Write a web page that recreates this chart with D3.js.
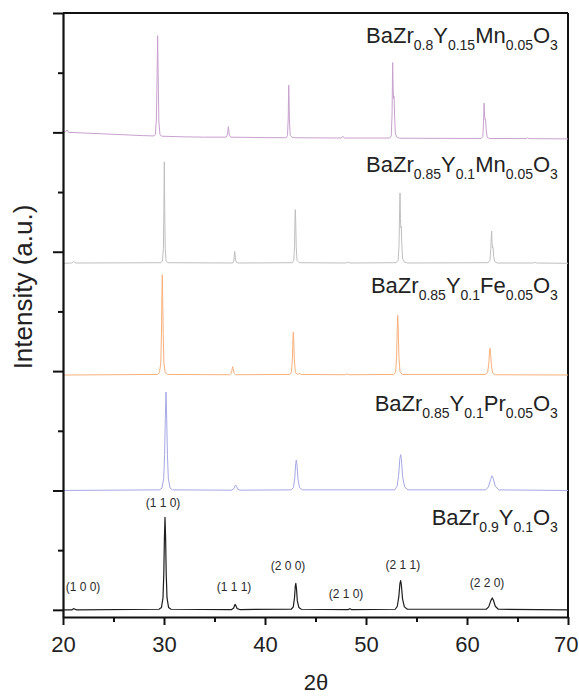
<!DOCTYPE html>
<html>
<head>
<meta charset="utf-8">
<script src="https://cdn.jsdelivr.net/npm/d3@7"></script>
<style>
  html, body { margin: 0; padding: 0; background: #fff; }
  svg { display: block; font-family: "Liberation Sans", Arial, sans-serif; }
</style>
</head>
<body>
<svg id="chart" width="579" height="697"></svg>
<script>
// ---------------- DATA ----------------
const seriesNames = ["BaZr0.9Y0.1O3", "BaZr0.85Y0.1Pr0.05O3", "BaZr0.85Y0.1Fe0.05O3", "BaZr0.85Y0.1Mn0.05O3", "BaZr0.8Y0.15Mn0.05O3"];
const seriesOffsets = [0, 2.0, 3.934, 5.806, 7.89];

// [2theta, intensity]
const pattern0 = [[20,0],[20.9,0],[21.05,0.02],[21.2,0.01],[21.35,0],
  [29.5,0.01],[29.75,0.04],[29.9,0.2],[29.98,0.6],[30.04,1.2],[30.1,1.55],[30.16,1.2],[30.22,0.6],[30.3,0.2],[30.45,0.04],[30.7,0.01],
  [36.7,0.005],[36.9,0.03],[37.0,0.08],[37.05,0.09],[37.12,0.07],[37.25,0.02],[37.5,0.005],
  [42.6,0.01],[42.8,0.05],[42.92,0.2],[43.0,0.4],[43.05,0.445],[43.12,0.35],[43.2,0.15],[43.35,0.04],[43.6,0.01],
  [48.25,0.005],[48.4,0.02],[48.55,0.005],
  [52.9,0.01],[53.1,0.06],[53.25,0.22],[53.36,0.44],[53.43,0.49],[53.5,0.42],[53.62,0.18],[53.8,0.05],[54.1,0.01],
  [61.9,0.01],[62.15,0.05],[62.35,0.15],[62.5,0.2],[62.62,0.16],[62.8,0.06],[63.1,0.01],
  [70,0]];
const pattern1 = [[20,0],
  [29.55,0.01],[29.8,0.04],[29.97,0.2],[30.06,0.6],[30.13,1.2],[30.2,1.65],[30.27,1.2],[30.34,0.6],[30.43,0.2],[30.6,0.04],[30.85,0.01],
  [36.7,0.005],[36.92,0.03],[37.03,0.075],[37.1,0.09],[37.18,0.07],[37.3,0.02],[37.55,0.005],
  [42.6,0.01],[42.82,0.05],[42.95,0.22],[43.04,0.45],[43.1,0.51],[43.17,0.42],[43.27,0.18],[43.42,0.05],[43.7,0.01],
  [52.85,0.01],[53.08,0.07],[53.23,0.25],[53.35,0.53],[53.43,0.6],[53.51,0.52],[53.63,0.23],[53.82,0.06],[54.15,0.01],
  [61.85,0.01],[62.12,0.06],[62.33,0.18],[62.47,0.245],[62.6,0.2],[62.8,0.07],[63.15,0.01],
  [70,0]];
const pattern2 = [[20,0],
  [29.35,0.01],[29.55,0.04],[29.68,0.2],[29.75,0.7],[29.79,1.3],[29.83,1.68],[29.87,1.3],[29.92,0.7],[29.99,0.2],[30.12,0.04],[30.35,0.01],
  [36.5,0.005],[36.68,0.03],[36.76,0.11],[36.8,0.14],[36.85,0.11],[36.94,0.03],[37.1,0.005],
  [42.45,0.01],[42.62,0.05],[42.72,0.3],[42.77,0.62],[42.8,0.72],[42.84,0.6],[42.9,0.28],[43.0,0.05],[43.2,0.01],[43.45,0.025],[43.6,0.01],
  [47.9,0.005],[48.1,0.02],[48.3,0.005],
  [52.75,0.01],[52.93,0.05],[53.03,0.3],[53.09,0.75],[53.14,1.0],[53.19,0.78],[53.26,0.3],[53.37,0.05],[53.6,0.01],
  [61.85,0.01],[62.05,0.05],[62.17,0.22],[62.24,0.42],[62.28,0.45],[62.33,0.38],[62.42,0.15],[62.55,0.03],[62.8,0.005],
  [70,0]];
const pattern3 = [[20,0],[20.85,0.005],[21.05,0.03],[21.2,0.01],[21.4,0.005],
  [29.7,0.01],[29.85,0.04],[29.94,0.25],[29.99,0.9],[30.03,1.70],[30.07,0.9],[30.12,0.25],[30.21,0.04],[30.4,0.01],
  [36.8,0.005],[36.92,0.04],[36.97,0.15],[37.0,0.2],[37.04,0.14],[37.1,0.04],[37.25,0.005],
  [42.7,0.01],[42.85,0.05],[42.93,0.3],[42.97,0.75],[43.0,0.9],[43.04,0.7],[43.09,0.28],[43.17,0.05],[43.4,0.01],
  [48.0,0.005],[48.2,0.02],[48.4,0.005],
  [53.0,0.01],[53.18,0.05],[53.27,0.3],[53.33,0.9],[53.37,1.18],[53.41,0.75],[53.45,0.6],[53.49,0.62],[53.54,0.35],[53.62,0.08],[53.8,0.02],[54.1,0.005],
  [62.1,0.01],[62.27,0.05],[62.36,0.25],[62.41,0.45],[62.44,0.54],[62.48,0.35],[62.53,0.26],[62.58,0.27],[62.64,0.12],[62.75,0.03],[63.0,0.005],
  [66.5,0.005],[66.7,0.015],[66.9,0.005],
  [70,0]];
const pattern4 = [[20,0.115],[20.25,0.12],[20.4,0.15],[20.55,0.11],[22,0.1],[24,0.085],[26,0.07],[28,0.055],
  [29.0,0.05],[29.15,0.08],[29.25,0.35],[29.32,1.1],[29.37,1.73],[29.42,1.1],[29.49,0.3],[29.6,0.07],[29.8,0.045],
  [32,0.035],[34,0.03],
  [36.15,0.03],[36.28,0.07],[36.34,0.16],[36.37,0.205],[36.41,0.15],[36.48,0.06],[36.6,0.03],
  [40,0.022],[42.1,0.02],[42.23,0.06],[42.3,0.35],[42.33,0.75],[42.35,0.9],[42.38,0.7],[42.42,0.3],[42.5,0.06],[42.7,0.025],[43.0,0.02],
  [47.55,0.015],[47.7,0.045],[47.85,0.015],
  [52.35,0.015],[52.5,0.05],[52.58,0.4],[52.62,1.0],[52.64,1.28],[52.68,0.9],[52.73,0.68],[52.78,0.71],[52.83,0.4],[52.9,0.1],[53.05,0.03],[53.3,0.012],
  [61.4,0.008],[61.57,0.04],[61.64,0.3],[61.68,0.55],[61.7,0.6],[61.74,0.4],[61.79,0.32],[61.84,0.33],[61.9,0.15],[62.0,0.03],[62.2,0.008],
  [65.85,0.005],[66.0,0.02],[66.15,0.005],
  [70,0.0]];
const patterns = [pattern0, pattern1, pattern2, pattern3, pattern4];

// Series label parts: [text, isSubscript]
const labelParts = [
  [["BaZr",0],["0.9",1],["Y",0],["0.1",1],["O",0],["3",1]],
  [["BaZr",0],["0.85",1],["Y",0],["0.1",1],["Pr",0],["0.05",1],["O",0],["3",1]],
  [["BaZr",0],["0.85",1],["Y",0],["0.1",1],["Fe",0],["0.05",1],["O",0],["3",1]],
  [["BaZr",0],["0.85",1],["Y",0],["0.1",1],["Mn",0],["0.05",1],["O",0],["3",1]],
  [["BaZr",0],["0.8",1],["Y",0],["0.15",1],["Mn",0],["0.05",1],["O",0],["3",1]]
];

// Miller index annotations for the bottom pattern
const hklLabels = ["(1 0 0)","(1 1 0)","(1 1 1)","(2 0 0)","(2 1 0)","(2 1 1)","(2 2 0)"];
const hklTheta  = [21.98, 29.9, 36.93, 42.28, 48.02, 53.66, 61.98];
const hklLevel  = [0.38, 1.79, 0.38, 0.73, 0.265, 0.75, 0.45];

const xTicks = [20, 30, 40, 50, 60, 70];
const xMinorTicks = [25, 35, 45, 55, 65];
const yMajorTicks = [0, 2, 4, 6, 8, 10];
const yMinorTicks = [1, 3, 5, 7, 9];

// ---------------- STYLE / LAYOUT ----------------
const colors = ["#1e1e1e", "#a5a8e4", "#f9b17c", "#bfbfbf", "#c9a1cf"];
const labelBaselineLevel = [1.42, 3.33, 5.31, 7.34, 9.5];

const svg = d3.select("#chart");
const mLeft = 63, mRight = 568, mTop = 13, mBottom = 617;

const x = d3.scaleLinear().domain([20, 70]).range([mLeft, mRight]);
const y = d3.scaleLinear().domain([-0.12, 10]).range([mBottom, mTop]);

// frame (top / right)
svg.append("line").attr("x1", mLeft).attr("x2", mRight).attr("y1", mTop).attr("y2", mTop)
  .attr("stroke", "#111").attr("stroke-width", 2);
svg.append("line").attr("x1", mRight).attr("x2", mRight).attr("y1", mTop).attr("y2", mBottom)
  .attr("stroke", "#111").attr("stroke-width", 2);

// curves
const line = d3.line().x(d => x(d[0])).y(d => y(d[1]));
patterns.forEach((p, i) => {
  const off = seriesOffsets[i];
  svg.append("path")
    .datum(p.map(d => [d[0], d[1] + off]))
    .attr("fill", "none")
    .attr("stroke", colors[i])
    .attr("stroke-width", i === 0 ? 1.2 : 1)
    .attr("stroke-linejoin", "round")
    .attr("d", line);
});

// axes
function styleAxis(g) {
  g.selectAll("path.domain").attr("stroke", "#111").attr("stroke-width", 2.2);
  g.selectAll(".tick line").attr("stroke", "#111").attr("stroke-width", 2);
}
const gxMinor = svg.append("g").attr("transform", `translate(0,${mBottom})`)
  .call(d3.axisBottom(x).tickValues(xMinorTicks).tickSize(5).tickFormat(""));
gxMinor.select("path.domain").remove();
styleAxis(gxMinor);
const gx = svg.append("g").attr("transform", `translate(0,${mBottom})`)
  .call(d3.axisBottom(x).tickValues(xTicks).tickSize(8).tickPadding(11).tickSizeOuter(0));
styleAxis(gx);
gx.selectAll(".tick text").attr("font-size", 22).attr("fill", "#222")
  .attr("font-family", "'Liberation Sans', Arial, sans-serif");
// keep the last label inside the picture
gx.selectAll(".tick text").filter(d => d === 70).attr("text-anchor", "end").attr("x", 10);

const gyMinor = svg.append("g").attr("transform", `translate(${mLeft},0)`)
  .call(d3.axisLeft(y).tickValues(yMinorTicks).tickSize(5).tickFormat(""));
gyMinor.select("path.domain").remove();
styleAxis(gyMinor);
const gy = svg.append("g").attr("transform", `translate(${mLeft},0)`)
  .call(d3.axisLeft(y).tickValues(yMajorTicks).tickSize(10).tickFormat("").tickSizeOuter(0));
styleAxis(gy);

// axis titles
svg.append("text")
  .attr("transform", `translate(32,287) rotate(-90)`)
  .attr("text-anchor", "middle")
  .attr("font-size", 26)
  .attr("fill", "#222")
  .text("Intensity (a.u.)");
svg.append("text")
  .attr("x", 316).attr("y", 690)
  .attr("text-anchor", "middle")
  .attr("font-size", 22)
  .attr("fill", "#222")
  .text("2θ");

// series labels
labelParts.forEach((parts, i) => {
  const t = svg.append("text")
    .attr("x", x(69.0))
    .attr("y", y(labelBaselineLevel[i]))
    .attr("text-anchor", "end")
    .attr("fill", "#222")
    .attr("font-size", 22);
  let prevSub = false;
  parts.forEach(([txt, sub]) => {
    const ts = t.append("tspan").text(txt);
    if (sub) { ts.attr("font-size", 14); if (!prevSub) ts.attr("dy", 7); }
    else if (prevSub) ts.attr("dy", -7);
    prevSub = !!sub;
  });
});

// hkl annotations
hklLabels.forEach((lab, i) => {
  svg.append("text")
    .attr("x", x(hklTheta[i]))
    .attr("y", y(hklLevel[i]))
    .attr("text-anchor", "middle")
    .attr("dominant-baseline", "central")
    .attr("font-size", 12)
    .attr("fill", "#2a2a2a")
    .text(lab);
});
</script>
</body>
</html>
